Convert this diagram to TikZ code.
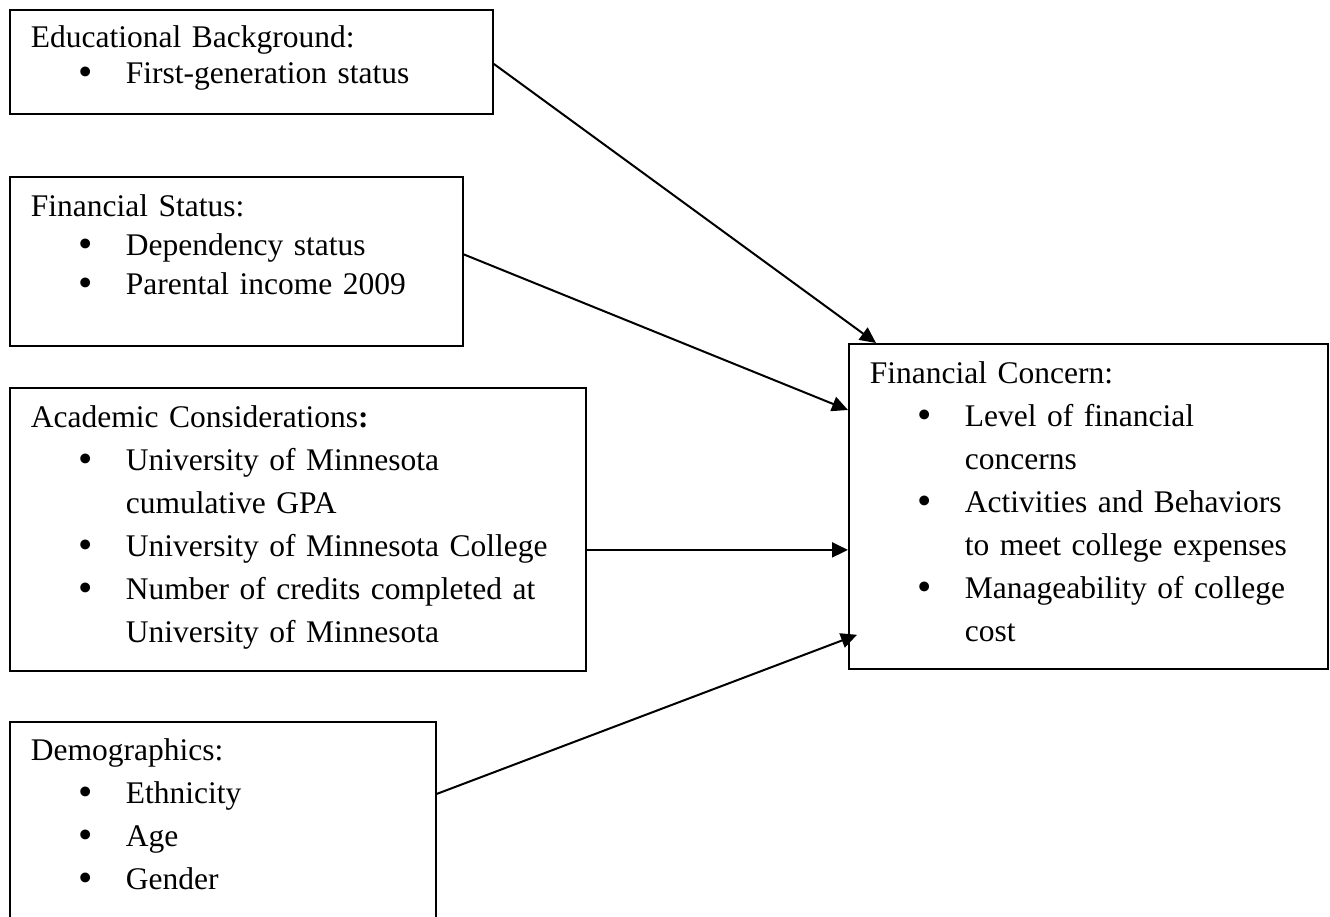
\documentclass[tikz,border=0pt]{standalone}
\usepackage{fontspec}
\setmainfont{Liberation Serif}
\usetikzlibrary{arrows.meta}
\newcommand\bul[1]{\mbox{\hspace*{48pt}\makebox[47pt][l]{\raisebox{-1.5pt}{\scalebox{1.3}{\textbullet}}}#1}}
\newcommand\cont[1]{\mbox{\hspace*{95pt}#1}}
\tikzset{
  box/.style={draw,line width=1.8pt,anchor=north west,inner xsep=21pt,inner ysep=0pt,
    align=left,text height=40pt,font=\fontsize{31.5pt}{43pt}\selectfont},
  link/.style={->,line width=2pt}
}
\begin{document}
\begin{tikzpicture}[x=1pt,y=-1pt,>={Triangle[length=16pt,width=15pt]}]
\clip (0,0) rectangle (1330,917);
% factor boxes
\node[box,text width=441pt,text height=38pt,text depth=66pt,font=\fontsize{31.5pt}{36pt}\selectfont] (edu) at (9,9)
  {Educational Background:\\ \bul{First-generation status}};
\node[box,text width=411pt,text height=40pt,text depth=129pt,font=\fontsize{31.5pt}{39pt}\selectfont] (fin) at (9,176)
  {Financial Status:\\ \bul{Dependency status}\\ \bul{Parental income 2009}};
\node[box,text width=534pt,text depth=243pt] (acad) at (9,387)
  {Academic Considerations\textbf{:}\\ \bul{University of Minnesota}\\ \cont{cumulative GPA}\\
   \bul{University of Minnesota College}\\ \bul{Number of credits completed at}\\ \cont{University of Minnesota}};
\node[box,text width=384pt,text height=39pt,text depth=181pt] (demo) at (9,721)
  {Demographics:\\ \bul{Ethnicity}\\ \bul{Age}\\ \bul{Gender}};
% outcome box
\node[box,text width=437pt,text depth=285pt] (concern) at (848,343)
  {Financial Concern:\\ \bul{Level of financial}\\ \cont{concerns}\\ \bul{Activities and Behaviors}\\
   \cont{to meet college expenses}\\ \bul{Manageability of college}\\ \cont{cost}};
% arrows
\draw[link] ([yshift=-2pt]edu.east) -- ([xshift=28pt]concern.north west);
\draw[link] ([yshift=7pt]fin.east) -- ([yshift=-67pt]concern.north west);
\draw[link] ([yshift=-20.5pt]acad.east) coordinate (gpa) -- (gpa -| concern.west);
\draw[link] ([yshift=38pt]demo.east) -- ([xshift=9pt,yshift=35pt]concern.south west);
\end{tikzpicture}
\end{document}
